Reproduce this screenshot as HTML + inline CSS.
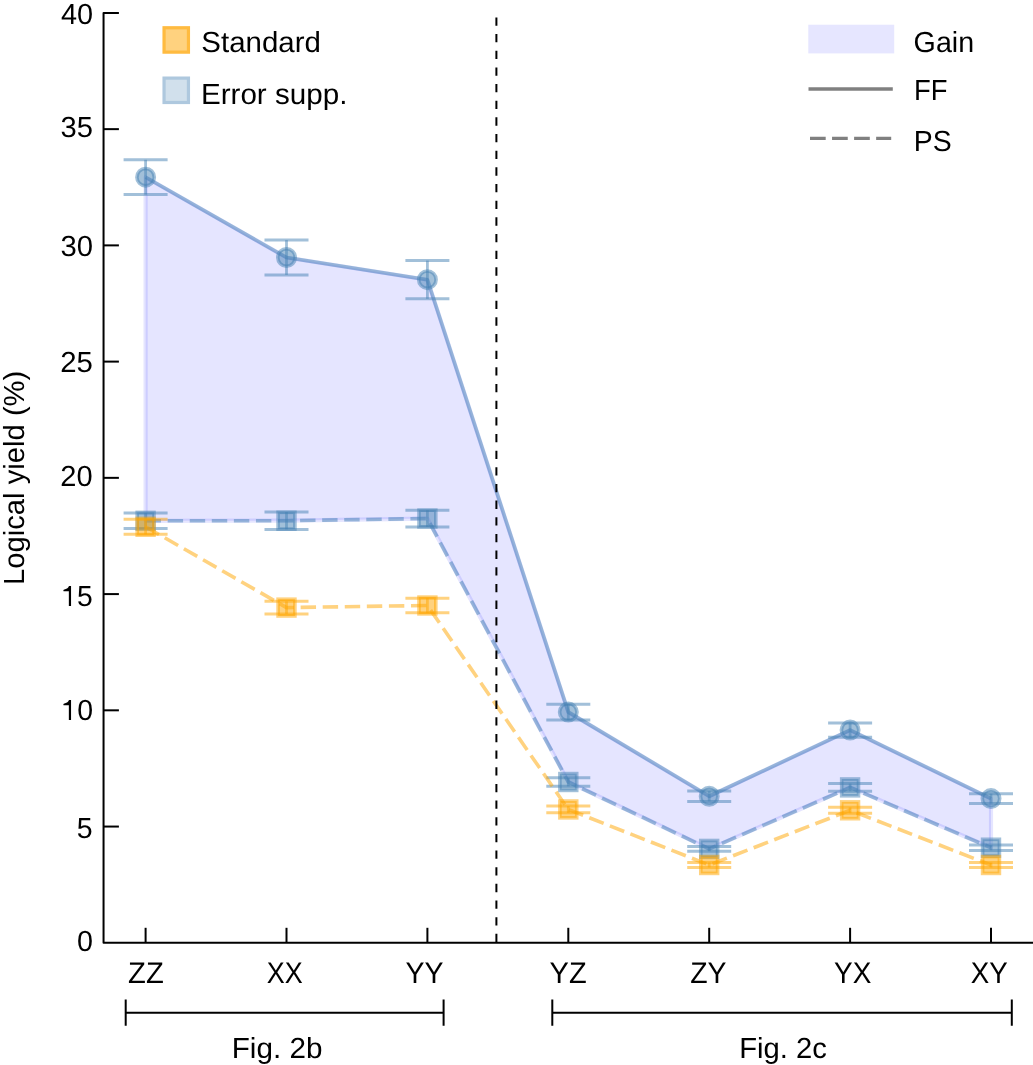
<!DOCTYPE html><html><head><meta charset="utf-8"><style>html,body{margin:0;padding:0;background:#fff;}svg{display:block;}text{font-family:"Liberation Sans",sans-serif;text-rendering:geometricPrecision;}svg{will-change:transform;}</style></head><body>
<svg width="1033" height="1065" viewBox="0 0 1033 1065">
<rect width="1033" height="1065" fill="#fff"/>
<polygon points="145.6,177.2 286.5,257.5 427.4,279.7 568.3,712.1 709.2,796.25 850.1,730.1 991,798.6 991,847.7 850.1,787.4 709.2,848.9 568.3,782 427.4,518.55 286.5,520.7 145.6,520.8" fill="rgba(0,0,255,0.1)" stroke="rgba(0,0,255,0.1)" stroke-width="4.2" stroke-linejoin="round"/>
<polyline points="145.6,177.2 286.5,257.5 427.4,279.7 568.3,712.1 709.2,796.25 850.1,730.1 991,798.6" fill="none" stroke="rgba(70,130,180,0.5)" stroke-width="3.6" stroke-linejoin="round"/>
<line x1="145.6" y1="159.8" x2="145.6" y2="194.6" stroke="rgba(70,130,180,0.5)" stroke-width="2.8"/>
<line x1="123.6" y1="159.8" x2="167.6" y2="159.8" stroke="rgba(70,130,180,0.5)" stroke-width="3.0"/>
<line x1="123.6" y1="194.6" x2="167.6" y2="194.6" stroke="rgba(70,130,180,0.5)" stroke-width="3.0"/>
<line x1="286.5" y1="240.1" x2="286.5" y2="274.9" stroke="rgba(70,130,180,0.5)" stroke-width="2.8"/>
<line x1="264.5" y1="240.1" x2="308.5" y2="240.1" stroke="rgba(70,130,180,0.5)" stroke-width="3.0"/>
<line x1="264.5" y1="274.9" x2="308.5" y2="274.9" stroke="rgba(70,130,180,0.5)" stroke-width="3.0"/>
<line x1="427.4" y1="260.55" x2="427.4" y2="298.85" stroke="rgba(70,130,180,0.5)" stroke-width="2.8"/>
<line x1="405.4" y1="260.55" x2="449.4" y2="260.55" stroke="rgba(70,130,180,0.5)" stroke-width="3.0"/>
<line x1="405.4" y1="298.85" x2="449.4" y2="298.85" stroke="rgba(70,130,180,0.5)" stroke-width="3.0"/>
<line x1="568.3" y1="704.2" x2="568.3" y2="720" stroke="rgba(70,130,180,0.5)" stroke-width="2.8"/>
<line x1="546.3" y1="704.2" x2="590.3" y2="704.2" stroke="rgba(70,130,180,0.5)" stroke-width="3.0"/>
<line x1="546.3" y1="720" x2="590.3" y2="720" stroke="rgba(70,130,180,0.5)" stroke-width="3.0"/>
<line x1="709.2" y1="791.1" x2="709.2" y2="801.4" stroke="rgba(70,130,180,0.5)" stroke-width="2.8"/>
<line x1="687.2" y1="791.1" x2="731.2" y2="791.1" stroke="rgba(70,130,180,0.5)" stroke-width="3.0"/>
<line x1="687.2" y1="801.4" x2="731.2" y2="801.4" stroke="rgba(70,130,180,0.5)" stroke-width="3.0"/>
<line x1="850.1" y1="723.05" x2="850.1" y2="737.15" stroke="rgba(70,130,180,0.5)" stroke-width="2.8"/>
<line x1="828.1" y1="723.05" x2="872.1" y2="723.05" stroke="rgba(70,130,180,0.5)" stroke-width="3.0"/>
<line x1="828.1" y1="737.15" x2="872.1" y2="737.15" stroke="rgba(70,130,180,0.5)" stroke-width="3.0"/>
<line x1="991" y1="793.7" x2="991" y2="803.5" stroke="rgba(70,130,180,0.5)" stroke-width="2.8"/>
<line x1="969" y1="793.7" x2="1013" y2="793.7" stroke="rgba(70,130,180,0.5)" stroke-width="3.0"/>
<line x1="969" y1="803.5" x2="1013" y2="803.5" stroke="rgba(70,130,180,0.5)" stroke-width="3.0"/>
<circle cx="145.6" cy="177.2" r="8.7" fill="rgba(70,130,180,0.5)" stroke="rgba(70,130,180,0.5)" stroke-width="3.6"/>
<circle cx="286.5" cy="257.5" r="8.7" fill="rgba(70,130,180,0.5)" stroke="rgba(70,130,180,0.5)" stroke-width="3.6"/>
<circle cx="427.4" cy="279.7" r="8.7" fill="rgba(70,130,180,0.5)" stroke="rgba(70,130,180,0.5)" stroke-width="3.6"/>
<circle cx="568.3" cy="712.1" r="8.7" fill="rgba(70,130,180,0.5)" stroke="rgba(70,130,180,0.5)" stroke-width="3.6"/>
<circle cx="709.2" cy="796.25" r="8.7" fill="rgba(70,130,180,0.5)" stroke="rgba(70,130,180,0.5)" stroke-width="3.6"/>
<circle cx="850.1" cy="730.1" r="8.7" fill="rgba(70,130,180,0.5)" stroke="rgba(70,130,180,0.5)" stroke-width="3.6"/>
<circle cx="991" cy="798.6" r="8.7" fill="rgba(70,130,180,0.5)" stroke="rgba(70,130,180,0.5)" stroke-width="3.6"/>
<polyline points="145.6,520.8 286.5,520.7 427.4,518.55 568.3,782 709.2,848.9 850.1,787.4 991,847.7" fill="none" stroke="rgba(70,130,180,0.5)" stroke-width="3.6" stroke-linejoin="round" stroke-dasharray="15.41 6.66"/>
<line x1="145.6" y1="513.05" x2="145.6" y2="528.55" stroke="rgba(70,130,180,0.5)" stroke-width="2.8"/>
<line x1="123.6" y1="513.05" x2="167.6" y2="513.05" stroke="rgba(70,130,180,0.5)" stroke-width="3.0"/>
<line x1="123.6" y1="528.55" x2="167.6" y2="528.55" stroke="rgba(70,130,180,0.5)" stroke-width="3.0"/>
<line x1="286.5" y1="512" x2="286.5" y2="529.4" stroke="rgba(70,130,180,0.5)" stroke-width="2.8"/>
<line x1="264.5" y1="512" x2="308.5" y2="512" stroke="rgba(70,130,180,0.5)" stroke-width="3.0"/>
<line x1="264.5" y1="529.4" x2="308.5" y2="529.4" stroke="rgba(70,130,180,0.5)" stroke-width="3.0"/>
<line x1="427.4" y1="510.2" x2="427.4" y2="526.9" stroke="rgba(70,130,180,0.5)" stroke-width="2.8"/>
<line x1="405.4" y1="510.2" x2="449.4" y2="510.2" stroke="rgba(70,130,180,0.5)" stroke-width="3.0"/>
<line x1="405.4" y1="526.9" x2="449.4" y2="526.9" stroke="rgba(70,130,180,0.5)" stroke-width="3.0"/>
<line x1="568.3" y1="777.65" x2="568.3" y2="786.35" stroke="rgba(70,130,180,0.5)" stroke-width="2.8"/>
<line x1="546.3" y1="777.65" x2="590.3" y2="777.65" stroke="rgba(70,130,180,0.5)" stroke-width="3.0"/>
<line x1="546.3" y1="786.35" x2="590.3" y2="786.35" stroke="rgba(70,130,180,0.5)" stroke-width="3.0"/>
<line x1="709.2" y1="846.45" x2="709.2" y2="851.35" stroke="rgba(70,130,180,0.5)" stroke-width="2.8"/>
<line x1="687.2" y1="846.45" x2="731.2" y2="846.45" stroke="rgba(70,130,180,0.5)" stroke-width="3.0"/>
<line x1="687.2" y1="851.35" x2="731.2" y2="851.35" stroke="rgba(70,130,180,0.5)" stroke-width="3.0"/>
<line x1="850.1" y1="783.55" x2="850.1" y2="791.25" stroke="rgba(70,130,180,0.5)" stroke-width="2.8"/>
<line x1="828.1" y1="783.55" x2="872.1" y2="783.55" stroke="rgba(70,130,180,0.5)" stroke-width="3.0"/>
<line x1="828.1" y1="791.25" x2="872.1" y2="791.25" stroke="rgba(70,130,180,0.5)" stroke-width="3.0"/>
<line x1="991" y1="845" x2="991" y2="850.4" stroke="rgba(70,130,180,0.5)" stroke-width="2.8"/>
<line x1="969" y1="845" x2="1013" y2="845" stroke="rgba(70,130,180,0.5)" stroke-width="3.0"/>
<line x1="969" y1="850.4" x2="1013" y2="850.4" stroke="rgba(70,130,180,0.5)" stroke-width="3.0"/>
<rect x="137.2" y="512.4" width="16.8" height="16.8" fill="rgba(70,130,180,0.5)" stroke="rgba(70,130,180,0.5)" stroke-width="3.6"/>
<rect x="278.1" y="512.3" width="16.8" height="16.8" fill="rgba(70,130,180,0.5)" stroke="rgba(70,130,180,0.5)" stroke-width="3.6"/>
<rect x="419" y="510.15" width="16.8" height="16.8" fill="rgba(70,130,180,0.5)" stroke="rgba(70,130,180,0.5)" stroke-width="3.6"/>
<rect x="559.9" y="773.6" width="16.8" height="16.8" fill="rgba(70,130,180,0.5)" stroke="rgba(70,130,180,0.5)" stroke-width="3.6"/>
<rect x="700.8" y="840.5" width="16.8" height="16.8" fill="rgba(70,130,180,0.5)" stroke="rgba(70,130,180,0.5)" stroke-width="3.6"/>
<rect x="841.7" y="779" width="16.8" height="16.8" fill="rgba(70,130,180,0.5)" stroke="rgba(70,130,180,0.5)" stroke-width="3.6"/>
<rect x="982.6" y="839.3" width="16.8" height="16.8" fill="rgba(70,130,180,0.5)" stroke="rgba(70,130,180,0.5)" stroke-width="3.6"/>
<polyline points="145.6,526.8 286.5,607.6 427.4,605.5 568.3,809.45 709.2,865 850.1,810.3 991,865" fill="none" stroke="rgba(255,165,0,0.5)" stroke-width="3.6" stroke-linejoin="round" stroke-dasharray="15.41 6.66"/>
<line x1="145.6" y1="519.35" x2="145.6" y2="534.25" stroke="rgba(255,165,0,0.5)" stroke-width="2.8"/>
<line x1="123.6" y1="519.35" x2="167.6" y2="519.35" stroke="rgba(255,165,0,0.5)" stroke-width="3.0"/>
<line x1="123.6" y1="534.25" x2="167.6" y2="534.25" stroke="rgba(255,165,0,0.5)" stroke-width="3.0"/>
<line x1="286.5" y1="601.3" x2="286.5" y2="613.9" stroke="rgba(255,165,0,0.5)" stroke-width="2.8"/>
<line x1="264.5" y1="601.3" x2="308.5" y2="601.3" stroke="rgba(255,165,0,0.5)" stroke-width="3.0"/>
<line x1="264.5" y1="613.9" x2="308.5" y2="613.9" stroke="rgba(255,165,0,0.5)" stroke-width="3.0"/>
<line x1="427.4" y1="598.15" x2="427.4" y2="612.85" stroke="rgba(255,165,0,0.5)" stroke-width="2.8"/>
<line x1="405.4" y1="598.15" x2="449.4" y2="598.15" stroke="rgba(255,165,0,0.5)" stroke-width="3.0"/>
<line x1="405.4" y1="612.85" x2="449.4" y2="612.85" stroke="rgba(255,165,0,0.5)" stroke-width="3.0"/>
<line x1="568.3" y1="806.05" x2="568.3" y2="812.85" stroke="rgba(255,165,0,0.5)" stroke-width="2.8"/>
<line x1="546.3" y1="806.05" x2="590.3" y2="806.05" stroke="rgba(255,165,0,0.5)" stroke-width="3.0"/>
<line x1="546.3" y1="812.85" x2="590.3" y2="812.85" stroke="rgba(255,165,0,0.5)" stroke-width="3.0"/>
<line x1="709.2" y1="862.45" x2="709.2" y2="867.55" stroke="rgba(255,165,0,0.5)" stroke-width="2.8"/>
<line x1="687.2" y1="862.45" x2="731.2" y2="862.45" stroke="rgba(255,165,0,0.5)" stroke-width="3.0"/>
<line x1="687.2" y1="867.55" x2="731.2" y2="867.55" stroke="rgba(255,165,0,0.5)" stroke-width="3.0"/>
<line x1="850.1" y1="807.3" x2="850.1" y2="813.3" stroke="rgba(255,165,0,0.5)" stroke-width="2.8"/>
<line x1="828.1" y1="807.3" x2="872.1" y2="807.3" stroke="rgba(255,165,0,0.5)" stroke-width="3.0"/>
<line x1="828.1" y1="813.3" x2="872.1" y2="813.3" stroke="rgba(255,165,0,0.5)" stroke-width="3.0"/>
<line x1="991" y1="862.5" x2="991" y2="867.5" stroke="rgba(255,165,0,0.5)" stroke-width="2.8"/>
<line x1="969" y1="862.5" x2="1013" y2="862.5" stroke="rgba(255,165,0,0.5)" stroke-width="3.0"/>
<line x1="969" y1="867.5" x2="1013" y2="867.5" stroke="rgba(255,165,0,0.5)" stroke-width="3.0"/>
<rect x="137.2" y="518.4" width="16.8" height="16.8" fill="rgba(255,165,0,0.5)" stroke="rgba(255,165,0,0.5)" stroke-width="3.6"/>
<rect x="278.1" y="599.2" width="16.8" height="16.8" fill="rgba(255,165,0,0.5)" stroke="rgba(255,165,0,0.5)" stroke-width="3.6"/>
<rect x="419" y="597.1" width="16.8" height="16.8" fill="rgba(255,165,0,0.5)" stroke="rgba(255,165,0,0.5)" stroke-width="3.6"/>
<rect x="559.9" y="801.05" width="16.8" height="16.8" fill="rgba(255,165,0,0.5)" stroke="rgba(255,165,0,0.5)" stroke-width="3.6"/>
<rect x="700.8" y="856.6" width="16.8" height="16.8" fill="rgba(255,165,0,0.5)" stroke="rgba(255,165,0,0.5)" stroke-width="3.6"/>
<rect x="841.7" y="801.9" width="16.8" height="16.8" fill="rgba(255,165,0,0.5)" stroke="rgba(255,165,0,0.5)" stroke-width="3.6"/>
<rect x="982.6" y="856.6" width="16.8" height="16.8" fill="rgba(255,165,0,0.5)" stroke="rgba(255,165,0,0.5)" stroke-width="3.6"/>
<line x1="496.4" y1="942.8" x2="496.4" y2="12.9" stroke="#000" stroke-width="2" stroke-dasharray="8.3 8.363" stroke-dashoffset="16.023"/>
<path d="M118.9,12.9 H103.55 V942.8 H1040" fill="none" stroke="#000" stroke-width="2" stroke-linejoin="round"/>
<line x1="103.55" y1="826.56" x2="118.9" y2="826.56" stroke="#000" stroke-width="2"/>
<line x1="103.55" y1="710.32" x2="118.9" y2="710.32" stroke="#000" stroke-width="2"/>
<line x1="103.55" y1="594.09" x2="118.9" y2="594.09" stroke="#000" stroke-width="2"/>
<line x1="103.55" y1="477.85" x2="118.9" y2="477.85" stroke="#000" stroke-width="2"/>
<line x1="103.55" y1="361.61" x2="118.9" y2="361.61" stroke="#000" stroke-width="2"/>
<line x1="103.55" y1="245.38" x2="118.9" y2="245.38" stroke="#000" stroke-width="2"/>
<line x1="103.55" y1="129.14" x2="118.9" y2="129.14" stroke="#000" stroke-width="2"/>
<text transform="translate(76.99,950.80) scale(1.0074,1.0200)" font-size="28.5">0</text>
<text transform="translate(76.80,837.94) scale(1.0000,1.0200)" font-size="28.5">5</text>
<path transform="translate(71.05,719.95)" d="M0,0 H-2.2 V-14.7 H-7.1 C-7.75,-14.7 -7.9,-16.0 -7.3,-16.3 C-5.4,-16.8 -3.7,-17.3 -2.9,-18.5 C-2.5,-19.1 -2.3,-19.5 -2.1,-20 H0 Z" fill="#000"/>
<text transform="translate(77.20,719.65) scale(1.0000,1.0200)" font-size="28.5">0</text>
<path transform="translate(71.05,605.95)" d="M0,0 H-2.2 V-14.7 H-7.1 C-7.75,-14.7 -7.9,-16.0 -7.3,-16.3 C-5.4,-16.8 -3.7,-17.3 -2.9,-18.5 C-2.5,-19.1 -2.3,-19.5 -2.1,-20 H0 Z" fill="#000"/>
<text transform="translate(76.91,606.14) scale(0.9926,1.0200)" font-size="28.5">5</text>
<text transform="translate(60.27,485.70) scale(1.0205,1.0200)" font-size="28.5">20</text>
<text transform="translate(60.16,372.10) scale(1.0309,1.0200)" font-size="28.5">25</text>
<text transform="translate(60.47,255.80) scale(1.0271,1.0200)" font-size="28.5">30</text>
<text transform="translate(60.47,137.40) scale(1.0238,1.0200)" font-size="28.5">35</text>
<text transform="translate(60.89,23.80) scale(1.0134,1.0200)" font-size="28.5">40</text>
<line x1="145.6" y1="927.8" x2="145.6" y2="942.8" stroke="#000" stroke-width="2"/>
<text transform="translate(128.08,982.80) scale(1.0242,1.0450)" font-size="28.5">ZZ</text>
<line x1="286.5" y1="927.8" x2="286.5" y2="942.8" stroke="#000" stroke-width="2"/>
<text transform="translate(266.74,982.80) scale(0.9455,1.0450)" font-size="28.5">XX</text>
<line x1="427.4" y1="927.8" x2="427.4" y2="942.8" stroke="#000" stroke-width="2"/>
<text transform="translate(405.40,982.80) scale(1.0000,1.0450)" font-size="28.5">YY</text>
<line x1="568.3" y1="927.8" x2="568.3" y2="942.8" stroke="#000" stroke-width="2"/>
<text transform="translate(549.59,982.80) scale(1.0172,1.0450)" font-size="28.5">YZ</text>
<line x1="709.2" y1="927.8" x2="709.2" y2="942.8" stroke="#000" stroke-width="2"/>
<text transform="translate(690.20,982.80) scale(0.9971,1.0450)" font-size="28.5">ZY</text>
<line x1="850.1" y1="927.8" x2="850.1" y2="942.8" stroke="#000" stroke-width="2"/>
<text transform="translate(834.01,982.80) scale(0.9809,1.0450)" font-size="28.5">YX</text>
<line x1="991" y1="927.8" x2="991" y2="942.8" stroke="#000" stroke-width="2"/>
<text transform="translate(970.67,982.80) scale(0.9728,1.0450)" font-size="28.5">XY</text>
<path d="M125.7,999.6 V1025.8 M125.7,1012.8 H443.6 M443.6,999.6 V1025.8" fill="none" stroke="#000" stroke-width="2"/>
<path d="M552.3,999.6 V1025.8 M552.3,1012.8 H1011.8 M1011.8,999.6 V1025.8" fill="none" stroke="#000" stroke-width="2"/>
<text transform="translate(231.71,1058.10) scale(1.0407,1.0200)" font-size="28.5">Fig. 2b</text>
<text transform="translate(739.14,1058.45) scale(1.0255,1.0200)" font-size="28.5">Fig. 2c</text>
<text transform="translate(23.9,585.01) rotate(-90) scale(1.0251,1.0200)" font-size="28.5">Logical yield (%)</text>
<rect x="164.05" y="27.75" width="24.4" height="24.4" fill="#FFD27F" stroke="#FFBB40" stroke-width="3.2"/>
<rect x="164.05" y="78.1" width="24.4" height="24.4" fill="#D1E0EC" stroke="#AEC8DE" stroke-width="3.2"/>
<text transform="translate(201.36,52.35) scale(1.0329,1.0200)" font-size="28.5">Standard</text>
<text transform="translate(200.91,103.90) scale(1.0389,1.0200)" font-size="28.5">Error supp.</text>
<rect x="808.3" y="24.7" width="85.9" height="28.7" fill="#E6E6FF"/>
<line x1="808.5" y1="89.0" x2="892.8" y2="89.0" stroke="#808080" stroke-width="3.3"/>
<line x1="810" y1="138.35" x2="891.2" y2="138.35" stroke="#808080" stroke-width="3.1" stroke-dasharray="15.7 6.35"/>
<text transform="translate(913.59,52.40) scale(1.0053,1.0200)" font-size="28.5">Gain</text>
<text transform="translate(914.09,100.20) scale(0.9618,1.0200)" font-size="28.5">FF</text>
<text transform="translate(913.81,151.30) scale(0.9971,1.0200)" font-size="28.5">PS</text>
</svg></body></html>
